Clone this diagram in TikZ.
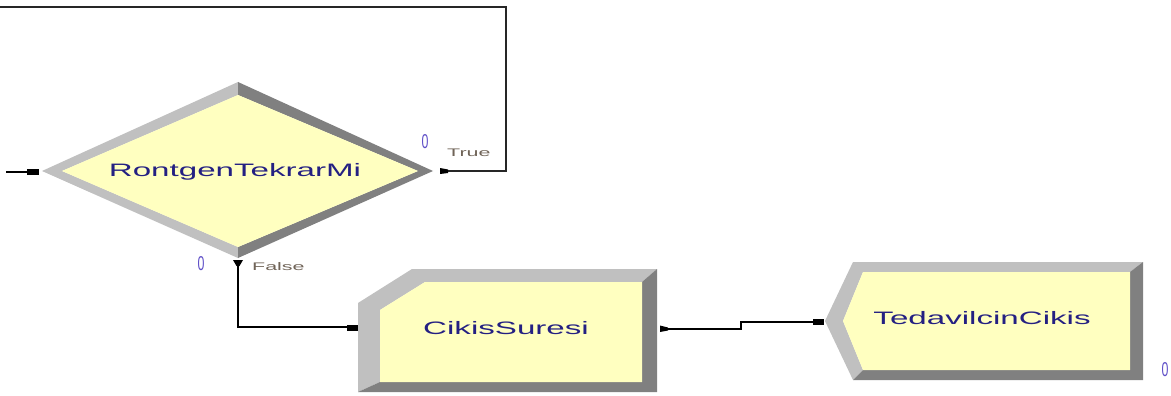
\documentclass[tikz,border=0pt]{standalone}
\usepackage{fontspec}
\setmainfont{Liberation Sans}
\usepackage{graphicx}
\definecolor{facey}{RGB}{255,255,192}
\definecolor{bevlight}{RGB}{192,192,192}
\definecolor{bevdark}{RGB}{128,128,128}
\definecolor{navytxt}{RGB}{36,32,130}
\definecolor{cntblue}{RGB}{96,80,200}
\definecolor{brgray}{RGB}{112,100,88}
\tikzset{
  bevellight/.style={fill=bevlight},
  beveldark/.style={fill=bevdark},
  face/.style={fill=facey},
  modlabel/.style={text=navytxt, font=\fontsize{18}{18}\selectfont, inner sep=0pt},
  countlabel/.style={text=cntblue, font=\fontsize{20}{20}\selectfont, inner sep=0pt},
  branchlabel/.style={text=brgray, font=\fontsize{11}{11}\selectfont, inner sep=0pt, anchor=west},
  connector/.style={draw=black, line width=1.4pt},
  loopline/.style={draw=black!85, line width=1.6pt},
  portmark/.style={fill=black},
}
\begin{document}
\begin{tikzpicture}[x=1pt,y=-1pt]
\useasboundingbox[fill=white] (0,0) rectangle (1171,396);

% ---- Decide module: RontgenTekrarMi ----
\fill[bevellight] (238,82) -- (42,171) -- (238,258) -- (238,247) -- (62,171) -- (238,95) -- cycle;
\fill[beveldark]  (238,82) -- (433,171) -- (238,258) -- (238,247) -- (418,171) -- (238,95) -- cycle;
\fill[face] (62,171) -- (238,95) -- (418,171) -- (238,247) -- cycle;
\node[modlabel] (rtm) at (235,172) {\scalebox{1.84}[1]{RontgenTekrarMi}};

% ---- Process module: CikisSuresi ----
\fill[bevellight] (358,392) -- (358,303) -- (412,269) -- (657,269) -- (642,282) -- (425,282) -- (380,310) -- (380,382) -- cycle;
\fill[beveldark] (657,269) -- (657,392) -- (358,392) -- (380,382) -- (642,382) -- (642,282) -- cycle;
\fill[face] (380,310) -- (425,282) -- (642,282) -- (642,382) -- (380,382) -- cycle;
\node[modlabel] (cik) at (506,328) {\scalebox{1.84}[1]{CikisSuresi}};

% ---- Dispose module: TedavilcinCikis ----
\fill[bevellight] (853,380) -- (825,321) -- (853,262) -- (1143,262) -- (1130,272) -- (863,272) -- (843,321) -- (863,370) -- cycle;
\fill[beveldark] (1143,262) -- (1143,380) -- (853,380) -- (863,370) -- (1130,370) -- (1130,272) -- cycle;
\fill[face] (843,321) -- (863,272) -- (1130,272) -- (1130,370) -- (863,370) -- cycle;
\node[modlabel] (ted) at (982,318) {\scalebox{1.84}[1]{TedavilcinCikis}};

% ---- counters and branch labels ----
\node[countlabel] (c1) at (425,142) {\scalebox{0.62}[1]{0}};
\node[countlabel] (c2) at (201,264) {\scalebox{0.62}[1]{0}};
\node[countlabel] (c3) at (1165,370) {\scalebox{0.62}[1]{0}};
\node[branchlabel] (lt) at (447,153) {\scalebox{1.95}[1]{True}};
\node[branchlabel] (lf) at (252,267) {\scalebox{1.95}[1]{False}};

% ---- ports ----
\coordinate (src)     at (6,172);
\coordinate (rtmIn)   at (27,172);
\coordinate (trueOut) at (448,171);
\coordinate (loopA)   at (506,171);
\coordinate (loopB)   at (506,7);
\coordinate (loopEnd) at (0,7);
\coordinate (falseOut) at (238,265);
\coordinate (cikIn)   at (347,327);
\coordinate (cikOut)  at (668,329);
\coordinate (tedIn)   at (813,322);

% ---- connectors ----
\draw[connector] (src) -- (rtmIn);
\draw[loopline] (trueOut) -- (loopA) -- (loopB) -- (loopEnd);
\draw[connector] (falseOut) |- (cikIn);
\draw[connector] (cikOut) -- (741,329) -- (741,322) -- (tedIn);

% ---- port markers ----
\fill[portmark] (27,169) rectangle (39,175);
\fill[portmark] (440,168) -- (448,169.5) -- (448,173) -- (440,174) -- cycle;
\fill[portmark] (233,260) -- (243,260) -- (239.5,266) -- (236.5,266) -- cycle;
\fill[portmark] (347,324.5) rectangle (358,330.5);
\fill[portmark] (660,325.5) -- (668,327.5) -- (668,330.5) -- (660,332) -- cycle;
\fill[portmark] (813,319) rectangle (824,325);
\end{tikzpicture}
\end{document}
